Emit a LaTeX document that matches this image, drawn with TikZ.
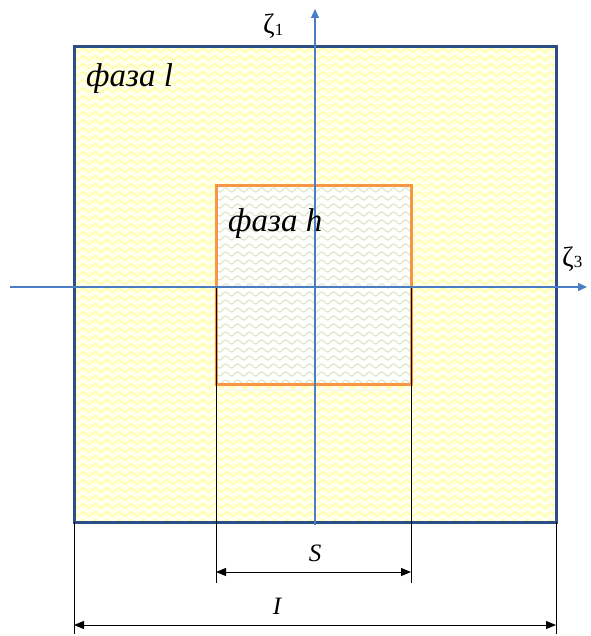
\documentclass[tikz,border=0pt]{standalone}
\usepackage{fontspec}
\setmainfont{Liberation Serif}
\usetikzlibrary{arrows.meta,decorations.pathmorphing}
\definecolor{axisblue}{HTML}{4A7EC4}
\definecolor{frameblue}{HTML}{2C4E86}
\definecolor{orng}{HTML}{F79646}
\definecolor{ylwbg}{HTML}{FFFFEC}
\definecolor{ylwline}{HTML}{FFFF99}
\definecolor{grnline}{HTML}{E0E9CC}
\tikzset{
  zig/.style={ylwline, line width=1.3pt, decorate, decoration={zigzag, segment length=12pt, amplitude=2.2pt}},
  wav/.style={grnline, line width=1.3pt, decorate, decoration={snake, segment length=12pt, amplitude=2pt}},
  axisline/.style={axisblue, line width=1.4pt, -{Triangle[length=9pt,width=8pt]}},
  extline/.style={black, line width=0.9pt},
  dimline/.style={black, line width=1pt, {Triangle[length=10pt,width=8pt]}-{Triangle[length=10pt,width=8pt]}},
  lbl/.style={font=\fontsize{33}{36}\selectfont\itshape, inner sep=0pt, anchor=base west},
  dimlbl/.style={font=\fontsize{25}{28}\selectfont\itshape, inner sep=0pt, anchor=base},
  zlbl/.style={font=\fontsize{28}{30}\selectfont, inner sep=0pt, anchor=base west}
}
\begin{document}
\begin{tikzpicture}[x=1pt,y=-1pt]
\useasboundingbox (0,0) rectangle (590,636);
\coordinate (OTL) at (74,47);
\coordinate (OBR) at (556,522);
\coordinate (ITL) at (216,186);
\coordinate (IBR) at (411,384);
% outer fill and pattern
\fill[ylwbg] (OTL) rectangle (OBR);
\begin{scope}
  \clip (OTL) rectangle (OBR);
  \foreach \y in {50,58,...,530} \draw[zig] (68,\y) -- (562,\y);
\end{scope}
% inner fill and pattern
\fill[white] (ITL) rectangle (IBR);
\begin{scope}
  \clip (ITL) rectangle (IBR);
  \foreach \y in {190,198,...,390} \draw[wav] (210,\y) -- (417,\y);
\end{scope}
% borders
\draw[frameblue, line width=3pt] (OTL) rectangle (OBR);
\draw[orng, line width=3pt] (ITL) rectangle (IBR);
% extension lines
\coordinate (EL1) at (74,522);  \coordinate (EL2) at (74,634);
\coordinate (ER1) at (556,522); \coordinate (ER2) at (556,634);
\coordinate (ES1) at (216,287); \coordinate (ES2) at (216,583);
\coordinate (ET1) at (411,287); \coordinate (ET2) at (411,583);
\draw[extline] (EL1) -- (EL2);
\draw[extline] (ER1) -- (ER2);
\draw[extline] (ES1) -- (ES2);
\draw[extline] (ET1) -- (ET2);
% axes
\coordinate (XA) at (10,287);  \coordinate (XB) at (587,287);
\coordinate (YA) at (315,525); \coordinate (YB) at (315,9);
\draw[axisline] (XA) -- (XB);
\draw[axisline] (YA) -- (YB);
% dimension lines
\coordinate (SA) at (216,572); \coordinate (SB) at (411,572);
\coordinate (LA) at (74,625);  \coordinate (LB) at (556,625);
\draw[dimline] (SA) -- (SB);
\draw[dimline] (LA) -- (LB);
% labels
\node[lbl] (phl) at (86,87) {фаза l};
\node[lbl] (phh) at (228,231) {фаза h};
\node[zlbl] (z1) at (263,34) {ζ\raisebox{-0.15ex}{\fontsize{17}{17}\selectfont 1}};
\node[zlbl] (z3) at (562,266) {ζ\raisebox{-0.15ex}{\fontsize{17}{17}\selectfont 3}};
\node[dimlbl] (sl) at (315,561) {S};
\node[dimlbl] (il) at (277,614) {I};
\end{tikzpicture}
\end{document}
